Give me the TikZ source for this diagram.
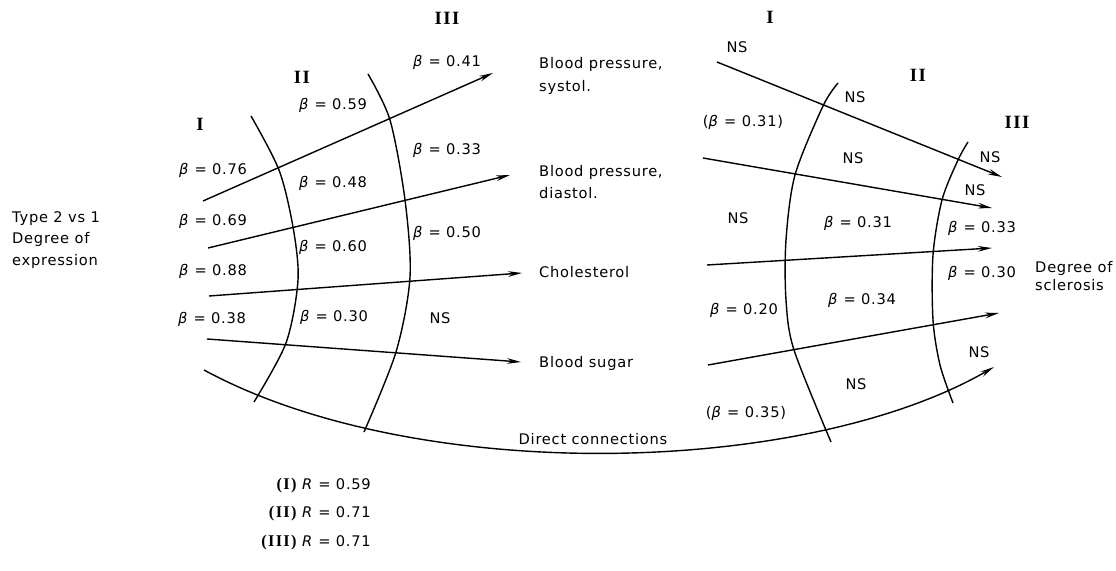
\documentclass[tikz,border=0pt]{standalone}
\usepackage{fontspec}
\setmainfont{DejaVu Sans}[LetterSpace=5]
\newfontfamily\romfont{Liberation Serif}[LetterSpace=8]
\usetikzlibrary{arrows.meta}
\newcommand{\betav}[1]{\textit{β} = #1}
\newcommand{\rnum}[1]{{\romfont\bfseries\fontsize{14}{16}\selectfont #1}}

\begin{document}
\begin{tikzpicture}[
    x=0.03cm, y=-0.03cm,
    >={Stealth[length=4.2mm, width=1.7mm]},
    lbl/.style={font=\fontsize{12.5}{15}\selectfont, inner sep=0pt},
    tgt/.style={anchor=west, align=left, inner sep=0pt,
        font=\fontsize{12.5}{19}\selectfont},
    rom/.style={font=\romfont\bfseries\fontsize{16}{18}\selectfont, inner sep=0pt},
    arr/.style={->, line width=1.2pt},
    band/.style={line width=1.2pt},
]
\useasboundingbox (0,0) rectangle (1116,571);

% Predictor text (left)
\node[tgt, font=\fontsize{12.5}{18.5}\selectfont] (type) at (12,240) {Type 2 vs 1\\Degree of\\expression};

% Intermediate variables (middle)
\node[tgt] (sys) at (539,76) {Blood pressure,\\systol.};
\node[tgt] (dia) at (539,182) {Blood pressure,\\diastol.};
\node[tgt] (chol) at (539,272) {Cholesterol};
\node[tgt] (sug) at (539,363) {Blood sugar};

% Outcome text (right)
\node[tgt, font=\fontsize{12.5}{15.5}\selectfont] (scl) at (1035,276) {Degree of\\sclerosis};

% Step numerals
\node[rom] (lI) at (200,124) {I};
\node[rom] (lII) at (302,77) {II};
\node[rom] (lIII) at (447,18) {III};
\node[rom] (rI) at (770,17) {I};
\node[rom] (rII) at (918,75) {II};
\node[rom] (rIII) at (1017,122) {III};

% Step boundaries, left group
\draw[band] plot[smooth] coordinates {(251,116) (279,170) (293,227) (298,280) (286,343) (254,402)};
\draw[band] plot[smooth] coordinates {(368,74) (390,120) (405,200) (410,277) (396,352) (364,432)};

% Step boundaries, right group
\draw[band] plot[smooth] coordinates {(838,83) (823,106) (795,175) (786,240) (786,300) (794,350) (831,442)};
\draw[band] plot[smooth] coordinates {(968,142) (958,160) (942,200) (933,255) (933,320) (940,365) (953,403)};

% Arrows from predictor to intermediates
\coordinate (l1s) at (203,201); \coordinate (l1e) at (493,73);
\coordinate (l2s) at (208,248); \coordinate (l2e) at (510,175);
\coordinate (l3s) at (209,296); \coordinate (l3e) at (522,273);
\coordinate (l4s) at (207,339); \coordinate (l4e) at (521,362);
\draw[arr] (l1s) -- (l1e);
\draw[arr] (l2s) -- (l2e);
\draw[arr] (l3s) -- (l3e);
\draw[arr] (l4s) -- (l4e);

% Arrows from intermediates to outcome
\coordinate (r1s) at (717,62); \coordinate (r1e) at (1002,177);
\coordinate (r2s) at (703,158); \coordinate (r2e) at (992,208);
\coordinate (r3s) at (707,265); \coordinate (r3e) at (992,248);
\coordinate (r4s) at (708,365); \coordinate (r4e) at (999,313);
\draw[arr] (r1s) -- (r1e);
\draw[arr] (r2s) -- (r2e);
\draw[arr] (r3s) -- (r3e);
\draw[arr] (r4s) -- (r4e);

% Direct connection
\coordinate (dcs) at (204,370); \coordinate (dce) at (994,367);
\draw[arr] (dcs) .. controls (416,485) and (803,477) .. (dce);
\node[lbl] (dcl) at (593,439) {Direct connections};

% Coefficients, left group
\node[lbl] (b76) at (213,170) {\betav{0.76}};
\node[lbl] (b69) at (213,221) {\betav{0.69}};
\node[lbl] (b88) at (213,271) {\betav{0.88}};
\node[lbl] (b38) at (212,319) {\betav{0.38}};
\node[lbl] (b59) at (333,105) {\betav{0.59}};
\node[lbl] (b48) at (333,183) {\betav{0.48}};
\node[lbl] (b60) at (333,247) {\betav{0.60}};
\node[lbl] (b30) at (334,317) {\betav{0.30}};
\node[lbl] (b41) at (447,62) {\betav{0.41}};
\node[lbl] (b33) at (447,150) {\betav{0.33}};
\node[lbl] (b50) at (447,233) {\betav{0.50}};
\node[lbl] (nsl) at (440,318) {NS};

% Coefficients, right group
\node[lbl] (ns1) at (737,47) {NS};
\node[lbl] (b31p) at (743,122) {(\betav{0.31})};
\node[lbl] (ns2) at (855,97) {NS};
\node[lbl] (ns3) at (853,158) {NS};
\node[lbl] (ns4) at (738,218) {NS};
\node[lbl] (b31) at (858,223) {\betav{0.31}};
\node[lbl] (ns5) at (990,157) {NS};
\node[lbl] (ns6) at (975,190) {NS};
\node[lbl] (b33r) at (982,228) {\betav{0.33}};
\node[lbl] (b30r) at (982,273) {\betav{0.30}};
\node[lbl] (b20) at (744,310) {\betav{0.20}};
\node[lbl] (b34) at (862,300) {\betav{0.34}};
\node[lbl] (ns7) at (979,352) {NS};
\node[lbl] (ns8) at (856,384) {NS};
\node[lbl] (b35p) at (746,413) {(\betav{0.35})};

% Multiple correlations
\node[lbl, anchor=east] (rr1) at (371,486) {\rnum{(I)} \textit{R} = 0.59};
\node[lbl, anchor=east] (rr2) at (371,514) {\rnum{(II)} \textit{R} = 0.71};
\node[lbl, anchor=east] (rr3) at (371,543) {\rnum{(III)} \textit{R} = 0.71};

\end{tikzpicture}
\end{document}
